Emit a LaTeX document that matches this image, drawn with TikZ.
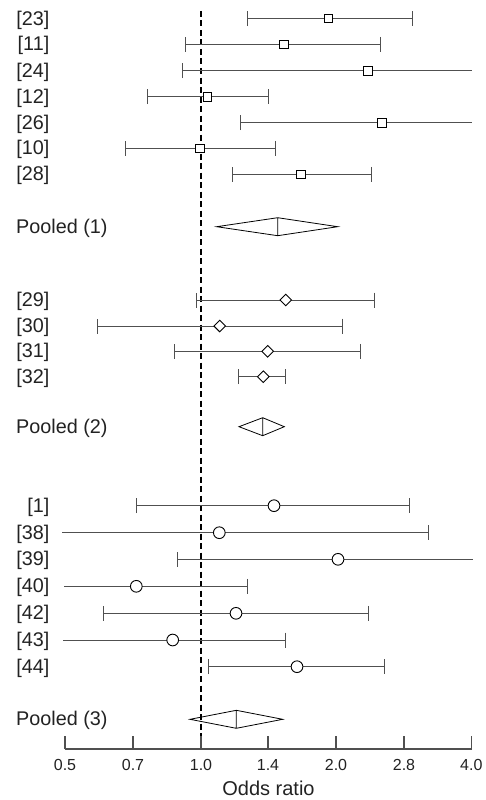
\documentclass[tikz,border=0pt]{standalone}
\usepackage{fontspec}
\setmainfont{Liberation Sans}
\usetikzlibrary{arrows.meta,shapes.geometric}
\definecolor{txt}{HTML}{222222}
\definecolor{barc}{HTML}{505050}
\tikzset{
  capT/.tip={Bar[width=15pt]},
  lab/.style={font=\fontsize{19.8}{19.8}\selectfont, text=txt, inner sep=0pt, anchor=base east},
  plab/.style={font=\fontsize{19.8}{19.8}\selectfont, text=txt, inner sep=0pt, anchor=base west},
  ticklab/.style={font=\fontsize{16}{16}\selectfont, text=txt, inner sep=0pt, anchor=base},
  axlab/.style={font=\fontsize{20}{20}\selectfont, text=txt, inner sep=0pt, anchor=base},
  bar/.style={draw=barc, line width=1pt},
  sqm/.style={draw=black, fill=white, rectangle, minimum size=8.5pt, inner sep=0pt, line width=0.9pt},
  dmm/.style={draw=black, fill=white, diamond, minimum size=12pt, inner sep=0pt, line width=0.9pt},
  cim/.style={draw=black, fill=white, circle, minimum size=11.7pt, inner sep=0pt, line width=0.9pt},
  pool/.style={draw=black, line width=0.8pt, line join=miter},
  nullline/.style={draw=black, line width=1.8pt, dash pattern=on 6pt off 3.5pt},
  axis/.style={draw=barc, line width=1.2pt},
}
\newcommand\frow[8]{%
  \node[lab] (l#1) at (49.5,#3+6.5) {#2};
  \coordinate (lo#1) at (#4,#3);
  \coordinate (hi#1) at (#6,#3);
  \draw[bar,#7] (lo#1) -- (hi#1);
  \node[#8] (m#1) at (#5,#3) {};
}
\newcommand\fpool[6]{% name, label, y, left, centre, right
  \node[plab] (l#1) at (16,#3+6.5) {#2};
  \coordinate (#1l) at (#4,#3);
  \coordinate (#1r) at (#6,#3);
  \coordinate (#1t) at (#5,#3-9);
  \coordinate (#1b) at (#5,#3+9);
  \draw[pool] (#1l) -- (#1t) -- (#1r) -- (#1b) -- cycle (#1t) -- (#1b);
}
\begin{document}
\begin{tikzpicture}[x=1pt,y=-1pt]
\useasboundingbox (0,0) rectangle (486,800);
% null line
\coordinate (dtop) at (201,11);
\coordinate (dbot) at (201,749);
\draw[nullline] (dtop) -- (dbot);
% group 1
\frow{23}{[23]}{18.7}{246.7}{328.3}{413.3}{capT-capT}{sqm}
\frow{11}{[11]}{44.3}{185}{283.7}{381.3}{capT-capT}{sqm}
\frow{24}{[24]}{70.7}{181.7}{368}{472.3}{capT-}{sqm}
\frow{12}{[12]}{96.7}{147}{207.3}{269.3}{capT-capT}{sqm}
\frow{26}{[26]}{122.7}{240}{381.7}{472.3}{capT-}{sqm}
\frow{10}{[10]}{148.3}{125.3}{200}{276.3}{capT-capT}{sqm}
\frow{28}{[28]}{174.3}{232.3}{301}{372.3}{capT-capT}{sqm}
\fpool{pa}{Pooled (1)}{226.7}{216.7}{277.7}{337.7}
% group 2
\frow{29}{[29]}{300}{196}{285.7}{375.3}{capT-capT}{dmm}
\frow{30}{[30]}{326}{97}{219.7}{343}{capT-capT}{dmm}
\frow{31}{[31]}{351.3}{173.7}{267.7}{361}{capT-capT}{dmm}
\frow{32}{[32]}{376.7}{237.7}{263.3}{286.3}{capT-capT}{dmm}
\fpool{pb}{Pooled (2)}{426.7}{239}{262.7}{284.3}
% group 3
\frow{1}{[1]}{505.7}{136.3}{274}{410}{capT-capT}{cim}
\frow{38}{[38]}{532.7}{62}{219.3}{429}{-capT}{cim}
\frow{39}{[39]}{559.3}{177}{338}{473.3}{capT-}{cim}
\frow{40}{[40]}{586.3}{64}{136.3}{247.7}{-capT}{cim}
\frow{42}{[42]}{613.3}{103}{236}{369}{capT-capT}{cim}
\frow{43}{[43]}{640}{63}{172.7}{285.7}{-capT}{cim}
\frow{44}{[44]}{666.7}{208.3}{297}{384.7}{capT-capT}{cim}
\fpool{pc}{Pooled (3)}{719.3}{190}{236.3}{282.7}
% axis
\coordinate (ax0) at (65,749);
\coordinate (ax6) at (472,749);
\draw[axis] (ax0) -- (ax6);
\foreach \xx/\tl [count=\i] in {65/0.5,133/0.7,201/1.0,268/1.4,336/2.0,404/2.8,471.3/4.0}{
  \coordinate (t\i) at (\xx,749);
  \coordinate (tt\i) at (\xx,736);
  \draw[axis] (t\i) -- (tt\i);
  \node[ticklab] (tl\i) at (\xx,770.7) {\tl};
}
\node[axlab] (xlabel) at (268.5,795.5) {Odds ratio};
\end{tikzpicture}
\end{document}
